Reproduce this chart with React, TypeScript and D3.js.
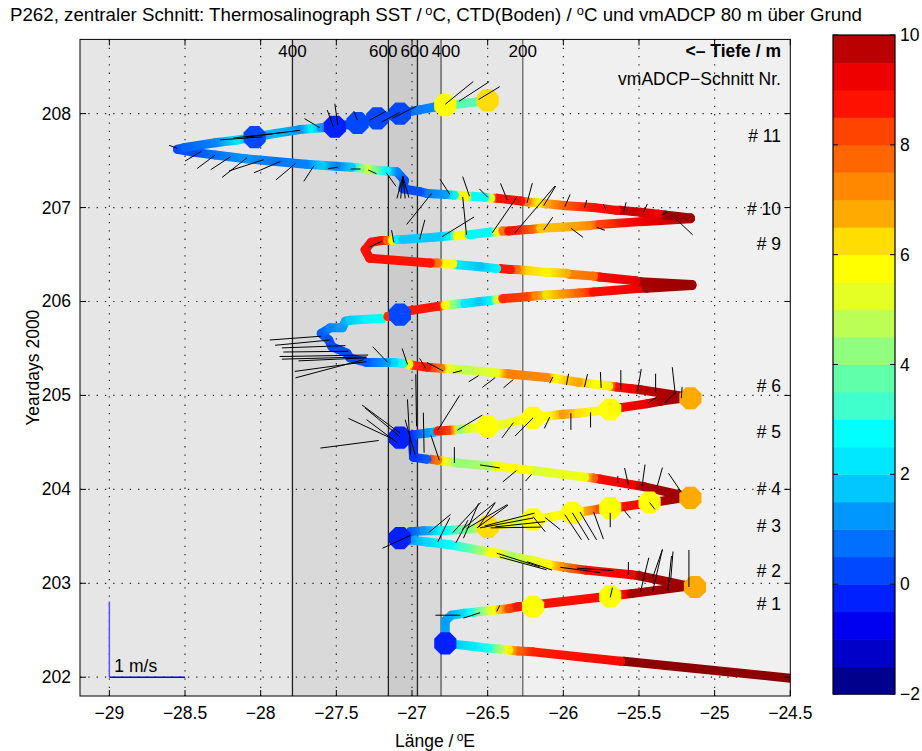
import React from 'react';
import * as d3 from 'd3';

// ---------------- data ----------------
const lonTicks = [-29, -28.5, -28, -27.5, -27, -26.5, -26, -25.5, -25, -24.5];
const dayTicks = [202, 203, 204, 205, 206, 207, 208];
const cbTicks = [-2, 0, 2, 4, 6, 8, 10];

const depthLon = [-27.79, -27.156, -26.964, -26.808, -26.268];
const depthLabelLon = [-27.79, -27.19, -26.983, -26.775, -26.268];
const depthLabel = ['400', '600', '600', '400', '200'];

const transectLabels = ['# 11', '# 10', '# 9', '# 6', '# 5', '# 4', '# 3', '# 2', '# 1'];
const transectDays = [207.763, 206.986, 206.613, 205.101, 204.612, 204.005, 203.611, 203.132, 202.78];

// colour bands of the colour bar, -2 .. 10 in steps of 0.5
const bandColors = [
  '#00008c', '#0000c8', '#0000f0', '#0020ff', '#0048ff', '#0070ff', '#0098ff', '#00c8ff',
  '#00e8ff', '#00ffff', '#40ffcc', '#60ffaa', '#90ff80', '#bbff55', '#e5ff25', '#ffff00',
  '#ffdd00', '#ffaa00', '#ff8800', '#ff6600', '#ff4400', '#ff1100', '#ee0000', '#bb0000',
];

// ship track: [lon, yearday, SST]
const legA = [
  [-24.5, 201.99, 10.4], [-25.6, 202.17, 10.4], [-25.62, 202.17, 9.0], [-26.2, 202.27, 8.6],
  [-26.3, 202.28, 7.8], [-26.36, 202.29, 6.0], [-26.42, 202.3, 4.5], [-26.5, 202.31, 3.0],
  [-26.6, 202.33, 2.3], [-26.78, 202.36, 1.5],
];
const legB = [
  [-26.78, 202.6, 1.3], [-26.74, 202.66, 1.5], [-26.66, 202.68, 2.0], [-26.6, 202.69, 3.0],
  [-26.55, 202.7, 4.0], [-26.48, 202.71, 5.2], [-26.42, 202.72, 6.5], [-26.36, 202.73, 8.2],
  [-26.3, 202.75, 8.7], [-25.6, 202.88, 9.0], [-25.55, 202.89, 10.0], [-25.17, 202.97, 10.2],
];
const legC = [
  [-25.5, 203.08, 10.0], [-25.55, 203.09, 9.2], [-25.85, 203.14, 8.8], [-25.95, 203.16, 7.8],
  [-26.02, 203.18, 7.0], [-26.1, 203.2, 5.8], [-26.2, 203.24, 5.3], [-26.35, 203.29, 4.6],
  [-26.44, 203.32, 5.6], [-26.48, 203.33, 5.8], [-26.55, 203.35, 4.5], [-26.65, 203.38, 3.5],
  [-26.75, 203.41, 2.7], [-26.9, 203.44, 2.0], [-27.01, 203.46, 1.3], [-27.07, 203.47, 1.0],
];
const legD = [
  [-27.01, 203.55, 0.5], [-26.92, 203.56, 1.2], [-26.8, 203.56, 2.5], [-26.7, 203.57, 3.5],
  [-26.6, 203.58, 4.3], [-26.5, 203.6, 5.8], [-26.35, 203.64, 5.3], [-26.25, 203.67, 4.5],
  [-26.15, 203.69, 5.5], [-26.0, 203.73, 5.8], [-25.88, 203.76, 6.5], [-25.76, 203.79, 8.0],
  [-25.63, 203.81, 8.8], [-25.5, 203.84, 9.0], [-25.45, 203.85, 9.8], [-25.17, 203.92, 10.2],
];
const legE = [
  [-25.47, 204.03, 10.0], [-25.55, 204.05, 9.2], [-25.76, 204.11, 9.0], [-25.8, 204.12, 7.8],
  [-25.86, 204.13, 5.5], [-26.2, 204.2, 5.1], [-26.25, 204.21, 5.8], [-26.42, 204.24, 5.8],
  [-26.5, 204.25, 4.6], [-26.7, 204.28, 4.3], [-26.79, 204.3, 5.5], [-26.83, 204.31, 7.5],
  [-26.88, 204.32, 8.0], [-26.9, 204.32, 0.5], [-26.99, 204.34, 0.0], [-27.0, 204.58, 0.0],
];
const legF = [
  [-26.9, 204.6, 1.2], [-26.85, 204.61, 1.5], [-26.83, 204.62, 8.7], [-26.75, 204.63, 8.3],
  [-26.68, 204.64, 4.3], [-26.62, 204.65, 5.2], [-26.5, 204.66, 5.8], [-26.4, 204.69, 5.3],
  [-26.3, 204.73, 5.6], [-26.2, 204.76, 5.8], [-26.1, 204.78, 5.7], [-26.0, 204.8, 7.0],
  [-25.9, 204.81, 6.2], [-25.8, 204.83, 5.8], [-25.69, 204.85, 5.8], [-25.62, 204.87, 9.0],
  [-25.45, 204.91, 9.3], [-25.35, 204.94, 10.0], [-25.17, 204.98, 10.2],
];
const legG = [
  [-25.49, 205.06, 9.7], [-25.55, 205.07, 9.2], [-25.65, 205.09, 8.8], [-25.7, 205.1, 6.0],
  [-25.8, 205.12, 5.7], [-25.9, 205.14, 6.8], [-25.98, 205.16, 6.5], [-26.05, 205.18, 5.8],
  [-26.11, 205.19, 7.2], [-26.37, 205.23, 7.4], [-26.45, 205.24, 5.3], [-26.64, 205.27, 4.8],
  [-26.75, 205.28, 5.2], [-26.81, 205.29, 7.5], [-26.9, 205.3, 8.7], [-26.99, 205.32, 8.5],
  [-27.02, 205.33, 5.8], [-27.06, 205.34, 3.0], [-27.12, 205.35, 2.0], [-27.17, 205.35, 1.3],
  [-27.3, 205.35, 0.5],
];
const legZig = [
  [-27.41, 205.4, 0.3], [-27.43, 205.45, 0.3], [-27.53, 205.52, 0.3], [-27.55, 205.59, 0.3],
  [-27.6, 205.66, 0.5], [-27.54, 205.72, 1.0], [-27.46, 205.72, 1.3], [-27.44, 205.79, 1.5],
  [-27.41, 205.8, 1.8], [-27.3, 205.81, 2.5], [-27.19, 205.82, 2.8], [-27.16, 205.84, 8.5],
  [-27.08, 205.86, 8.5],
];
const legH = [
  [-27.06, 205.89, 8.7], [-26.82, 205.95, 8.7], [-26.78, 205.96, 5.8], [-26.72, 205.97, 4.3],
  [-26.65, 205.98, 2.3], [-26.55, 206.0, 1.8], [-26.48, 206.01, 2.5], [-26.44, 206.02, 5.0],
  [-26.4, 206.03, 8.5], [-26.24, 206.05, 8.3], [-26.18, 206.06, 7.3], [-26.11, 206.07, 6.2],
  [-26.0, 206.08, 7.0], [-25.9, 206.09, 7.8], [-25.8, 206.1, 8.8], [-25.49, 206.14, 9.2],
  [-25.45, 206.14, 10.0], [-25.15, 206.17, 10.2],
];
const legI = [
  [-25.15, 206.18, 10.2], [-25.49, 206.21, 10.0], [-25.52, 206.22, 9.3], [-25.76, 206.26, 9.0],
  [-25.8, 206.27, 7.6], [-25.96, 206.29, 7.3], [-25.98, 206.3, 6.7], [-26.11, 206.31, 5.9],
  [-26.24, 206.33, 6.3], [-26.31, 206.34, 7.6], [-26.35, 206.34, 8.7], [-26.42, 206.35, 8.7],
  [-26.44, 206.35, 2.5], [-26.55, 206.37, 1.7], [-26.7, 206.39, 2.3], [-26.73, 206.4, 5.7],
  [-26.79, 206.4, 5.8], [-26.83, 206.41, 7.5], [-26.88, 206.41, 8.7], [-27.28, 206.46, 8.8],
  [-27.31, 206.55, 8.8], [-27.27, 206.63, 8.8],
];
const legJ = [
  [-27.2, 206.65, 8.8], [-27.16, 206.65, 7.8], [-27.13, 206.65, 5.8], [-27.1, 206.66, 2.5],
  [-27.06, 206.66, 1.8], [-26.81, 206.69, 1.8], [-26.75, 206.7, 2.6], [-26.7, 206.7, 5.8],
  [-26.64, 206.71, 5.8], [-26.62, 206.71, 2.6], [-26.48, 206.74, 2.6], [-26.44, 206.74, 5.2],
  [-26.4, 206.75, 7.5], [-26.36, 206.75, 8.8], [-26.29, 206.76, 8.6], [-26.2, 206.77, 7.8],
  [-26.15, 206.78, 6.5], [-26.02, 206.79, 6.6], [-25.82, 206.81, 7.2], [-25.76, 206.82, 8.2],
  [-25.49, 206.85, 9.2], [-25.16, 206.88, 9.8],
];
const legK = [
  [-25.16, 206.89, 10.2], [-25.33, 206.92, 10.2], [-25.37, 206.93, 9.2], [-25.49, 206.95, 9.5],
  [-25.62, 206.97, 9.8], [-25.65, 206.97, 9.0], [-25.8, 207.0, 8.8], [-25.98, 207.02, 8.0],
  [-26.11, 207.04, 6.8], [-26.17, 207.05, 6.0], [-26.24, 207.06, 7.3], [-26.28, 207.07, 8.8],
  [-26.44, 207.1, 8.8], [-26.48, 207.1, 5.3], [-26.52, 207.11, 2.7], [-26.6, 207.12, 2.7],
  [-26.64, 207.12, 5.8], [-26.69, 207.13, 5.8], [-26.72, 207.13, 2.5], [-26.78, 207.14, 1.3],
  [-26.9, 207.15, 0.9], [-26.95, 207.17, 0.3], [-27.06, 207.2, 0.3], [-27.05, 207.29, 0.3],
  [-27.1, 207.38, 1.0],
];
const legL = [
  [-27.17, 207.39, 2.5], [-27.25, 207.4, 4.0], [-27.3, 207.41, 5.0], [-27.34, 207.42, 4.2],
  [-27.4, 207.43, 1.8], [-27.5, 207.44, 1.0], [-27.6, 207.45, 1.8], [-27.7, 207.46, 1.0],
  [-27.9, 207.49, 0.8], [-28.1, 207.52, 1.2], [-28.3, 207.56, 0.8], [-28.45, 207.59, 0.3],
  [-28.55, 207.62, 0.3],
];
const legM = [
  [-28.5, 207.64, 0.6], [-28.3, 207.69, 1.0], [-28.15, 207.72, 2.2], [-28.04, 207.75, 1.2],
  [-27.9, 207.79, 1.6], [-27.74, 207.83, 1.2], [-27.66, 207.84, 2.3], [-27.6, 207.85, 1.3],
  [-27.51, 207.86, 0.3], [-27.36, 207.9, 0.3], [-27.23, 207.95, 0.3], [-27.08, 208.0, 0.5],
  [-26.95, 208.04, 0.9], [-26.85, 208.07, 1.0], [-26.78, 208.09, 4.0], [-26.7, 208.1, 3.6],
  [-26.5, 208.14, 3.6],
];

// CTD stations: bottom temperature
const stationLon = [
  -26.78, -26.2, -25.69, -25.13, -27.08, -26.5, -26.2, -25.94, -25.69, -25.43, -25.16,
  -27.08, -26.5, -26.2, -25.69, -25.16, -27.08, -28.04, -27.51, -27.36, -27.23, -27.08,
  -26.78, -26.5,
];
const stationDay = [
  202.36, 202.75, 202.86, 202.96, 203.48, 203.6, 203.68, 203.75, 203.8, 203.86, 203.91,
  204.55, 204.67, 204.76, 204.85, 204.97, 205.86, 207.75, 207.86, 207.9, 207.95, 208.0,
  208.09, 208.14,
];
const stationTemp = [
  -0.3, 5.8, 5.8, 6.8, -0.3, 6.2, 5.8, 5.8, 5.8, 5.8, 6.8,
  -0.2, 5.8, 5.8, 5.8, 6.8, 0.2, 0.2, -0.3, 0.2, 0.2, 0.2,
  5.8, 6.2,
];

// vmADCP current vectors 80 m above ground: [lon, yearday, u (m/s), v (m/s)]
const vecs11 = [
  [-28.39, 207.6, -0.22, -0.13], [-28.3, 207.56, -0.24, -0.18], [-28.2, 207.54, -0.26, -0.17],
  [-28.09, 207.53, -0.33, -0.26], [-27.98, 207.51, -0.46, -0.15], [-27.87, 207.49, -0.35, -0.15],
  [-27.77, 207.47, -0.26, -0.22], [-27.65, 207.44, -0.13, -0.2], [-27.49, 207.43, -0.13, -0.02],
  [-27.34, 207.41, -0.13, 0.0], [-27.29, 207.4, 0.11, -0.05], [-27.17, 207.37, 0.13, -0.18],
  [-27.06, 207.33, -0.08, -0.29], [-27.06, 207.33, -0.03, -0.29], [-27.06, 207.33, 0.03, -0.29],
  [-27.06, 207.33, 0.08, -0.28], [-28.55, 207.63, -0.11, 0.04], [-28.27, 207.72, 0.56, 0.04],
  [-28.18, 207.74, 0.62, 0.07], [-28.09, 207.75, 0.7, 0.09], [-27.61, 207.85, -0.2, 0.12],
  [-27.52, 207.86, -0.08, 0.22], [-27.49, 207.88, -0.04, 0.28], [-27.36, 207.93, -0.05, 0.12],
  [-27.28, 207.93, 0.22, 0.12], [-27.2, 207.91, 0.24, 0.13], [-27.13, 207.95, 0.32, 0.16],
  [-26.78, 208.1, 0.37, 0.3], [-26.69, 208.13, 0.4, 0.26], [-26.56, 208.15, 0.28, 0.17],
];
const vecs10 = [
  [-26.75, 207.14, -0.13, 0.2], [-26.62, 207.12, -0.09, 0.26], [-26.5, 207.11, -0.11, 0.11],
  [-26.37, 207.08, -0.09, 0.22], [-26.24, 207.05, 0.07, 0.26], [-26.13, 207.02, 0.16, 0.26],
  [-25.99, 207.01, 0.07, 0.16], [-25.86, 207.0, 0.03, 0.1], [-25.72, 206.98, -0.03, 0.07],
  [-25.6, 206.96, 0.03, 0.12], [-25.47, 206.95, 0.05, 0.11], [-25.35, 206.92, 0.07, 0.04],
  [-26.87, 207.15, -0.33, -0.41],
];
const vecs9 = [
  [-27.12, 206.63, -0.03, 0.16], [-26.95, 206.66, 0.07, 0.26], [-26.8, 206.69, 0.42, 0.26],
  [-26.64, 206.71, -0.05, 0.5], [-26.47, 206.73, 0.33, 0.48], [-26.32, 206.73, 0.53, 0.62],
  [-26.13, 206.76, 0.12, 0.17], [-25.95, 206.78, 0.16, -0.12], [-25.78, 206.79, 0.11, -0.04],
  [-25.25, 206.87, 0.21, -0.2], [-27.28, 206.58, 0.17, 0.08],
];
const vecs6 = [
  [-27.6, 205.63, -0.68, -0.05], [-27.54, 205.59, -0.73, -0.07], [-27.44, 205.53, -0.84, -0.03],
  [-27.42, 205.47, -0.86, -0.01], [-27.29, 205.43, -1.17, -0.02], [-27.3, 205.41, -1.12, -0.03],
  [-27.3, 205.4, -0.9, -0.04], [-27.3, 205.36, -0.95, -0.13], [-27.32, 205.38, -0.9, -0.24],
  [-27.16, 205.35, -0.2, 0.21], [-27.03, 205.33, -0.07, 0.21], [-26.91, 205.29, -0.08, 0.13],
  [-26.9, 205.35, 0.21, -0.11], [-26.73, 205.24, 0.12, 0.03], [-26.56, 205.21, -0.13, -0.08],
  [-26.45, 205.19, -0.17, -0.13], [-26.33, 205.17, -0.13, -0.11], [-26.09, 205.13, 0.04, 0.08],
  [-25.98, 205.11, 0.03, 0.15], [-25.86, 205.09, 0.04, 0.17], [-25.75, 205.08, -0.01, 0.21],
  [-25.62, 205.06, 0.0, 0.26], [-25.51, 205.04, 0.05, 0.3], [-25.39, 205.03, 0.0, 0.25],
  [-25.26, 205.01, -0.04, 0.36], [-25.22, 204.97, 0.01, 0.15],
];
const vecs5 = [
  [-27.08, 204.6, -0.5, 0.37], [-27.08, 204.56, -0.46, 0.38], [-27.12, 204.53, -0.6, 0.28],
  [-27.1, 204.5, -0.4, 0.3], [-27.22, 204.52, -0.77, -0.1], [-27.01, 204.37, -0.04, 0.73],
  [-26.97, 204.67, -0.01, 0.69], [-26.98, 204.37, -0.13, 0.46], [-26.92, 204.39, -0.01, 0.53],
  [-26.82, 204.31, -0.11, 0.33], [-26.83, 204.63, 0.29, 0.46], [-26.7, 204.63, 0.33, 0.2],
  [-26.33, 204.71, -0.15, -0.2], [-26.2, 204.76, -0.24, -0.24], [-26.09, 204.77, -0.07, -0.15],
  [-25.95, 204.81, 0.0, -0.22], [-25.82, 204.82, 0.0, -0.2], [-25.44, 204.92, 0.12, 0.08],
  [-25.33, 204.92, 0.13, 0.13],
];
const vecs4 = [
  [-26.72, 204.28, 0.0, 0.21], [-26.55, 204.26, 0.26, -0.04], [-26.31, 204.2, -0.18, -0.15],
  [-26.21, 204.16, -0.08, -0.09], [-25.64, 204.07, 0.0, 0.09], [-25.57, 204.05, -0.05, 0.22],
  [-25.48, 204.03, 0.04, 0.29], [-25.38, 204.03, 0.07, 0.25], [-25.22, 203.97, -0.17, 0.25],
];
const vecs3 = [
  [-26.57, 203.59, 0.41, 0.3], [-26.56, 203.6, 0.22, 0.32], [-26.66, 203.48, 0.2, 0.46],
  [-26.89, 203.54, 0.29, 0.24], [-26.83, 203.44, 0.16, 0.32], [-26.71, 203.43, 0.16, 0.3],
  [-26.73, 203.54, 0.37, 0.4], [-26.67, 203.57, 0.44, 0.36], [-26.64, 203.58, 0.54, 0.32],
  [-26.55, 203.59, 0.7, 0.13], [-26.52, 203.61, 0.66, 0.17], [-26.48, 203.59, 0.66, 0.01],
  [-26.45, 203.6, 0.66, 0.07], [-26.2, 203.71, 0.16, -0.2], [-26.12, 203.7, 0.2, -0.16],
  [-25.99, 203.73, 0.22, -0.33], [-25.94, 203.75, 0.22, -0.36], [-25.89, 203.76, 0.22, -0.37],
  [-25.8, 203.76, 0.13, -0.36], [-25.69, 203.75, 0.0, -0.19], [-25.6, 203.78, 0.09, -0.11],
  [-25.43, 203.86, 0.07, -0.09], [-27.01, 203.51, -0.37, -0.17],
];
const vecs2 = [
  [-26.44, 203.32, 0.57, -0.18], [-26.42, 203.28, 0.62, -0.17], [-26.24, 203.23, 0.33, -0.11],
  [-26.02, 203.17, 0.53, -0.07], [-25.91, 203.16, 0.48, -0.03], [-25.57, 203.09, 0.0, 0.17],
  [-25.41, 202.91, 0.13, 0.56], [-25.31, 202.92, 0.05, 0.46], [-25.17, 202.96, 0.0, 0.49],
  [-25.49, 202.91, 0.11, 0.45], [-25.41, 203.06, 0.13, 0.37], [-25.29, 203.04, 0.03, 0.37],
  [-26.68, 202.66, -0.33, 0.0], [-26.66, 202.63, 0.22, 0.07], [-26.44, 202.7, 0.04, 0.08],
  [-25.69, 202.85, 0.03, 0.13],
];

// ---------------- component ----------------
const FONT = '"Liberation Sans", Arial, Helvetica, sans-serif';
const FS = 17.5;
const MINUS = '\u2212';
const fmt = (v: number) => (v < 0 ? MINUS + String(Math.abs(v)) : String(v));

export default function App() {
  const x = d3.scaleLinear().domain([-29.194, -24.5]).range([80, 790.3]);
  const y = d3.scaleLinear().domain([201.8, 208.79]).range([696, 39.4]);
  const cb = d3.scaleLinear().domain([-2, 10]).range([694, 35]);
  const [xl, xr] = x.range();
  const [yb, yt] = y.range();
  const k = x(-28.5) - x(-29); // pixels per m/s

  const bandOf = (v: number) => bandColors[Math.max(0, Math.min(23, Math.floor((v + 2) / 0.5)))];
  const centers = bandColors.map((_, i) => -1.75 + 0.5 * i);
  const colorAt = d3
    .scaleLinear<string>()
    .domain([...centers, 10.4])
    .range([...bandColors, '#8c0000'])
    .interpolate(d3.interpolateRgb)
    .clamp(true);

  const track = [...legA, ...legB, ...legC, ...legD, ...legE, ...legF, ...legG, ...legZig,
    ...legH, ...legI, ...legJ, ...legK, ...legL, ...legM];
  const segs = d3.pairs(track);
  const vectors = [...vecs11, ...vecs10, ...vecs9, ...vecs6, ...vecs5, ...vecs4, ...vecs3, ...vecs2];

  const bounds = [x.domain()[0], ...depthLon, x.domain()[1]];
  const shade = ['#e6e6e6', '#d9d9d9', '#cccccc', '#d9d9d9', '#e6e6e6', '#f0f0f0'];
  const depthStroke = ['#222', '#222', '#222', '#555', '#666'];

  const octagon = (cx: number, cy: number, r: number) =>
    d3.range(8).map((i) => {
      const a = Math.PI / 8 + (i * Math.PI) / 4;
      return `${(cx + r * Math.cos(a)).toFixed(2)},${(cy + r * Math.sin(a)).toFixed(2)}`;
    }).join(' ');

  const fstops = [0, 0.25, 0.5, 0.75, 1];
  const tick = 6;
  const cbx0 = 833, cbx1 = 895;

  return (
    <svg width={922} height={751} style={{ position: 'absolute', left: 0, top: 0, background: '#fff' }}
      fontFamily={FONT} fontSize={FS}>
      <defs>
        <clipPath id="plotclip">
          <rect x={xl} y={yt} width={xr - xl} height={yb - yt} />
        </clipPath>
        {segs.map(([p, q], i) => {
          const x1 = x(p[0]), y1 = y(p[1]), x2 = x(q[0]), y2 = y(q[1]);
          return (
            <linearGradient key={i} id={`g${i}`} gradientUnits="userSpaceOnUse" x1={x1} y1={y1} x2={x2} y2={y2}>
              {fstops.map((f) => (
                <stop key={f} offset={f} stopColor={colorAt(p[2] + (q[2] - p[2]) * f)} />
              ))}
            </linearGradient>
          );
        })}
      </defs>

      {/* title */}
      <text x={436} y={21} textAnchor="middle" textLength={852} lengthAdjust="spacingAndGlyphs">
        P262, zentraler Schnitt: Thermosalinograph SST /
        <tspan dy={-6} fontSize={12}> o</tspan><tspan dy={6}>C, CTD(Boden) / </tspan>
        <tspan dy={-6} fontSize={12}>o</tspan><tspan dy={6}>C und vmADCP 80 m über Grund</tspan>
      </text>

      <g clipPath="url(#plotclip)">
        {/* depth shading */}
        {shade.map((c, i) => (
          <rect key={i} x={x(bounds[i])} y={yt} width={x(bounds[i + 1]) - x(bounds[i])} height={yb - yt} fill={c} />
        ))}
        {/* grid */}
        {lonTicks.slice(0, -1).map((t) => (
          <line key={'gx' + t} x1={x(t)} x2={x(t)} y1={yt} y2={yb} stroke="#222" strokeWidth={1.2} strokeDasharray="1.3,7" />
        ))}
        {dayTicks.map((t) => (
          <line key={'gy' + t} x1={xl} x2={xr} y1={y(t)} y2={y(t)} stroke="#222" strokeWidth={1.2} strokeDasharray="1.3,7" />
        ))}
        {/* depth lines */}
        {depthLon.map((d, i) => (
          <line key={'d' + i} x1={x(d)} x2={x(d)} y1={yt} y2={yb} stroke={depthStroke[i]} strokeWidth={1.3} />
        ))}
        {/* track */}
        {segs.map(([p, q], i) => (
          <line key={'s' + i} x1={x(p[0])} y1={y(p[1])} x2={x(q[0])} y2={y(q[1])}
            stroke={`url(#g${i})`} strokeWidth={9} strokeLinecap="round" />
        ))}
        {/* CTD stations */}
        {stationLon.map((lo, i) => (
          <polygon key={'o' + i} points={octagon(x(lo), y(stationDay[i]), 12)} fill={bandOf(stationTemp[i])} />
        ))}
        {/* current vectors */}
        {vectors.map((v, i) => (
          <line key={'v' + i} x1={x(v[0])} y1={y(v[1])} x2={x(v[0]) + v[2] * k} y2={y(v[1]) - v[3] * k}
            stroke="#000" strokeWidth={1} />
        ))}
        {/* scale */}
        <line x1={x(-29)} x2={x(-29)} y1={y(202)} y2={y(202) - k} stroke="#5555ff" strokeWidth={1.5} />
        <line x1={x(-29)} x2={x(-29) + k} y1={y(202)} y2={y(202)} stroke="#0000cc" strokeWidth={1.5} />
        <text x={x(-29) + 5} y={y(202) - 5}>1 m/s</text>
      </g>

      {/* depth labels */}
      {depthLabelLon.map((d, i) => (
        <text key={'dl' + i} x={x(d)} y={57} textAnchor="middle" fontSize={17}>{depthLabel[i]}</text>
      ))}
      <text x={781} y={57} textAnchor="end" fontWeight="bold">{'<\u2013 Tiefe / m'}</text>
      <text x={781} y={85} textAnchor="end">{'vmADCP\u2212Schnitt Nr.'}</text>
      {transectLabels.map((t, i) => (
        <text key={'tl' + i} x={781} y={y(transectDays[i])} textAnchor="end" dominantBaseline="central">{t}</text>
      ))}

      {/* axes box and ticks */}
      <rect x={xl} y={yt} width={xr - xl} height={yb - yt} fill="none" stroke="#000" strokeWidth={1} />
      {lonTicks.map((t) => (
        <g key={'tx' + t}>
          <line x1={x(t)} x2={x(t)} y1={yb} y2={yb - tick} stroke="#000" />
          <line x1={x(t)} x2={x(t)} y1={yt} y2={yt + tick} stroke="#000" />
          <text x={x(t)} y={719} textAnchor="middle">{fmt(t)}</text>
        </g>
      ))}
      {dayTicks.map((t) => (
        <g key={'ty' + t}>
          <line x1={xl} x2={xl + tick} y1={y(t)} y2={y(t)} stroke="#000" />
          <line x1={xr} x2={xr - tick} y1={y(t)} y2={y(t)} stroke="#000" />
          <text x={71} y={y(t)} textAnchor="end" dominantBaseline="central">{t}</text>
        </g>
      ))}
      <text x={435} y={747} textAnchor="middle">
        Länge /<tspan dy={-6} fontSize={12}> o</tspan><tspan dy={6}>E</tspan>
      </text>
      <text transform={`translate(39,${(yt + yb) / 2}) rotate(-90)`} textAnchor="middle">Yeardays 2000</text>

      {/* colour bar */}
      {bandColors.map((c, i) => (
        <rect key={'cb' + i} x={cbx0} y={cb(-2 + 0.5 * (i + 1))} width={cbx1 - cbx0}
          height={cb(-2 + 0.5 * i) - cb(-2 + 0.5 * (i + 1)) + 0.5} fill={c} />
      ))}
      <rect x={cbx0} y={cb(10)} width={cbx1 - cbx0} height={cb(-2) - cb(10)} fill="none" stroke="#000" strokeWidth={1.2} />
      {cbTicks.map((t) => (
        <g key={'ct' + t}>
          <line x1={cbx0} x2={cbx0 + 5} y1={cb(t)} y2={cb(t)} stroke="#000" />
          <line x1={cbx1} x2={cbx1 - 5} y1={cb(t)} y2={cb(t)} stroke="#000" />
          <text x={900} y={cb(t)} dominantBaseline="central">{fmt(t)}</text>
        </g>
      ))}
    </svg>
  );
}
